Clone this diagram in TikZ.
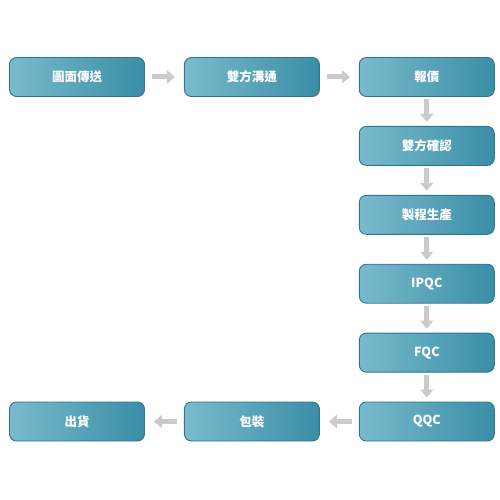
\documentclass[tikz,border=0pt]{standalone}
\usepackage{fontspec}
\setmainfont{Noto Sans CJK TC}
\usetikzlibrary{positioning}
\usetikzlibrary{arrows.meta}
\definecolor{boxlight}{RGB}{122,186,205}
\definecolor{boxmid}{RGB}{68,151,175}
\definecolor{boxdark}{RGB}{58,142,166}
\definecolor{boxedge}{RGB}{46,118,140}
\definecolor{arrowgray}{RGB}{202,202,202}
\tikzset{every node/.style={font=\bfseries\fontsize{12.5}{15}\selectfont}}
\tikzset{stepbox/.style={draw=boxedge,line width=0.9pt,rounded corners=7pt,
  minimum width=135pt,minimum height=39pt,left color=boxlight,middle color=boxmid,
  right color=boxdark,text=white}}
\tikzset{flowh/.style={draw=arrowgray,line width=5pt,-{Triangle[length=8pt,width=13pt]},
  shorten <=7pt,shorten >=9pt}}
\tikzset{flowv/.style={draw=arrowgray,line width=5pt,-{Triangle[length=8pt,width=13pt]},
  shorten <=2pt,shorten >=4pt}}

\begin{document}
\begin{tikzpicture}[x=1pt,y=1pt,node distance=29pt and 39pt]
\useasboundingbox (0,0) rectangle (500,-500);
%上排
\node[stepbox] (send) at (77,-77) {圖面傳送};
\node[stepbox,right=of send] (talk) {雙方溝通};
\node[stepbox,right=of talk] (quote) {報價};
%右列
\node[stepbox,below=of quote] (confirm) {雙方確認};
\node[stepbox,below=of confirm] (make) {製程生產};
\node[stepbox,below=of make] (ipqc) {IPQC};
\node[stepbox,below=of ipqc] (fqc) {FQC};
\node[stepbox,below=of fqc] (qqc) {QQC};
%下排
\node[stepbox,left=of qqc] (pack) {包裝};
\node[stepbox,left=of pack] (ship) {出貨};
%箭頭
\foreach \a/\b in {send/talk,talk/quote,qqc/pack,pack/ship}
  \draw[flowh] (\a) -- (\b);
\foreach \a/\b in {quote/confirm,confirm/make,make/ipqc,ipqc/fqc,fqc/qqc}
  \draw[flowv] (\a) -- (\b);
\end{tikzpicture}
\end{document}
